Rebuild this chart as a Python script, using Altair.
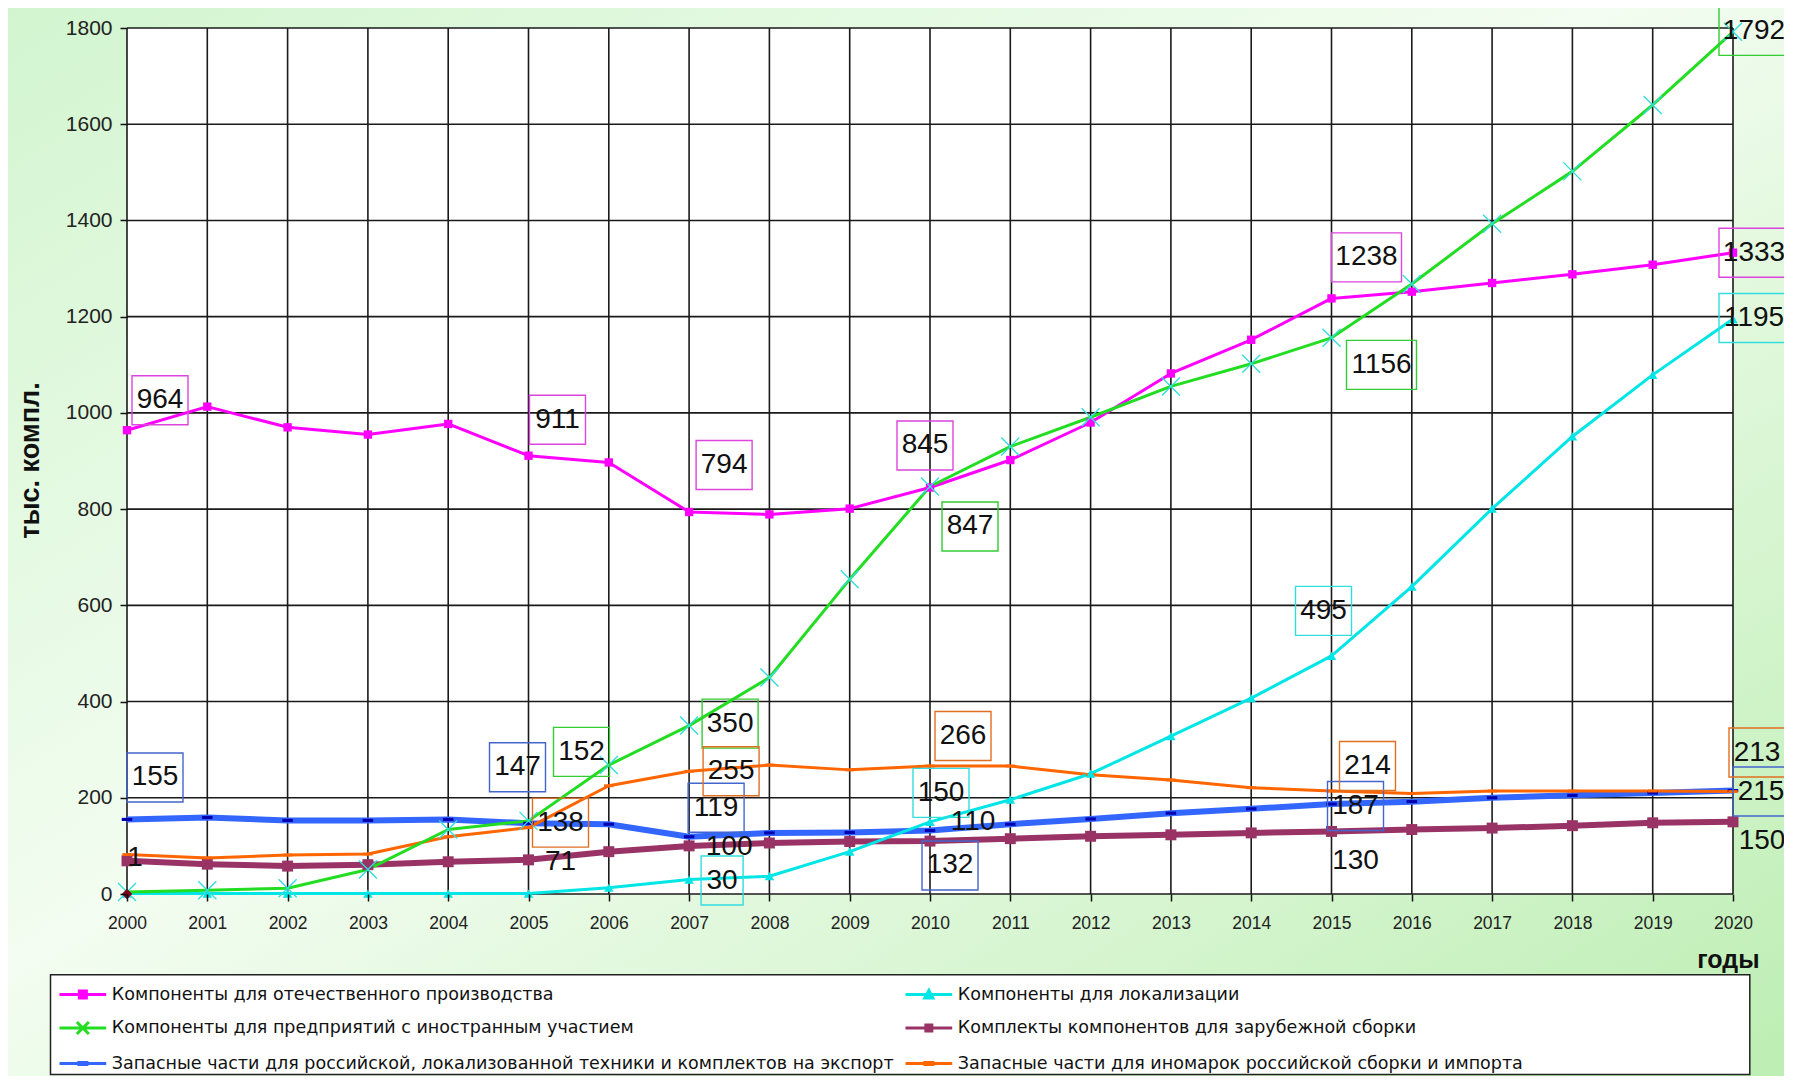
import altair as alt
import pandas as pd

# ---------------- data ----------------
years = list(range(2000, 2021))

series_names = [
    "Компоненты для отечественного производства",
    "Компоненты для предприятий с иностранным участием",
    "Запасные части для российской, локализованной техники и комплектов на экспорт",
    "Компоненты для локализации",
    "Комплекты компонентов для зарубежной сборки",
    "Запасные части для иномарок российской сборки и импорта",
]

domestic = [964, 1013, 970, 955, 977, 911, 897, 794, 789, 801, 845, 902, 980, 1082, 1152, 1238, 1252, 1270, 1288, 1308, 1333]
foreign = [4, 8, 12, 51, 134, 152, 268, 350, 450, 654, 847, 930, 991, 1055, 1102, 1156, 1268, 1393, 1502, 1640, 1792]
spare_ru = [155, 159, 153, 153, 155, 147, 145, 119, 127, 128, 132, 145, 156, 168, 177, 187, 192, 200, 205, 210, 215]
localiz = [1, 1, 1, 1, 1, 1, 13, 30, 37, 88, 150, 196, 250, 328, 407, 495, 639, 801, 951, 1079, 1195]
kits = [69, 62, 58, 61, 67, 71, 88, 100, 106, 109, 110, 115, 120, 123, 127, 130, 134, 137, 142, 148, 150]
spare_im = [82, 75, 81, 83, 119, 138, 225, 255, 268, 258, 266, 266, 248, 237, 221, 214, 209, 214, 214, 214, 213]

series_values = [domestic, foreign, spare_ru, localiz, kits, spare_im]

y_ticks = list(range(0, 1801, 200))

origin_marker_year = [2000]
origin_marker_value = [0]

# labelled points: (series index, year, boxed)
label_points = [
    (0, 2000, True), (0, 2005, True), (0, 2007, True), (0, 2010, True), (0, 2015, True), (0, 2020, True),
    (1, 2005, True), (1, 2007, True), (1, 2010, True), (1, 2015, True), (1, 2020, True),
    (2, 2000, True), (2, 2005, True), (2, 2007, True), (2, 2010, True), (2, 2015, True), (2, 2020, True),
    (3, 2000, False), (3, 2007, True), (3, 2010, True), (3, 2015, True), (3, 2020, True),
    (4, 2005, False), (4, 2007, False), (4, 2010, False), (4, 2015, False), (4, 2020, False),
    (5, 2005, True), (5, 2007, True), (5, 2010, True), (5, 2015, True), (5, 2020, True),
]
# pixel offsets of each label from its point (styling)
label_offsets = [
    (33, -30), (29, -36), (35, -47), (-5, -42), (35, -41), (21, 0),
    (53, -69), (41, -2), (40, 40), (50, 27), (21, -1),
    (28, -42), (-11, -56), (27, -29), (20, 35), (24, 2), (28, 1),
    (8, -36), (33, 1), (11, -29), (-8, -45), (21, -1),
    (32, 2), (40, 1), (43, -19), (24, 30), (29, 19),
    (32, -5), (42, 0), (33, -30), (36, -25), (24, -39),
]

# ---------------- styling ----------------
W, H = 1606, 866
PAD_L, PAD_T, PAD_R, PAD_B = 119, 20, 51, 182

line_colors = ["#ff00ff", "#22dd22", "#3366ff", "#00e5e5", "#993366", "#ff6600"]
line_widths = [3, 3, 6, 3, 6, 3]
box_colors = ["#dd44dd", "#33cc33", "#4466cc", "#33dddd", "#993366", "#e07020"]
DASH = "M-1,-0.3H1V0.3H-1Z"
XMARK = "M-1,-1L1,1M-1,1L1,-1"
marker_specs = [
    dict(shape="square", filled=True, color="#ff00ff", size=70),
    dict(shape=XMARK, filled=False, color="#33dddd", size=324, strokeWidth=1.4),
    dict(shape=DASH, filled=True, color="#0000b0", size=110),
    dict(shape="triangle-up", filled=True, color="#00e5e5", size=90),
    dict(shape="square", filled=True, color="#993366", size=120),
    dict(shape=DASH, filled=True, color="#ff6600", size=90),
]

LINE = "M-2.335,0H2.335"
legend_order = [0, 1, 2, 3, 4, 5]
legend_shapes = {
    0: LINE + "M-0.35,-0.35H0.35V0.35H-0.35Z",
    1: LINE + "M-0.6,-0.6L0.6,0.6M-0.6,0.6L0.6,-0.6",
    2: LINE + "M-0.4,-0.1H0.4V0.1H-0.4Z",
    3: LINE + "M0,-0.4L0.4,0.35H-0.4Z",
    4: LINE + "M-0.3,-0.3H0.3V0.3H-0.3Z",
    5: LINE + "M-0.4,-0.1H0.4V0.1H-0.4Z",
}
legend_fill = {0: "#ff00ff", 1: "#22dd22", 2: "#0000aa", 3: "#00e5e5", 4: "#993366", 5: "#ff6600"}

SANS = "Liberation Sans, Arial, sans-serif"

# ---------------- data frames ----------------
long_df = pd.DataFrame(
    [(series_names[i], y, v) for i, vals in enumerate(series_values) for y, v in zip(years, vals)],
    columns=["series", "year", "value"],
)
lab_rows = []
for (si, yr, boxed), (dx, dy) in zip(label_points, label_offsets):
    v = series_values[si][years.index(yr)]
    lab_rows.append(dict(si=si, series=series_names[si], year=yr, value=v, label=str(v),
                         dx=dx, dy=dy, boxed=boxed))
lab_df = pd.DataFrame(lab_rows)

x_scale = alt.Scale(domain=[2000, 2020], nice=False, zero=False)
y_scale = alt.Scale(domain=[0, 1800], nice=False, zero=True)

x_axis = alt.Axis(values=years, format="d", grid=False, domain=False, tickSize=7, tickWidth=1.5,
                  tickColor="#111", labelFont=SANS, labelFontSize=17.5, labelColor="#222",
                  labelPadding=13, labelFlush=False, title="годы", titleFont=SANS, titleFontSize=25,
                  titleFontWeight="bold", titleColor="#111", titleAlign="right",
                  titleX=W + 26, titleY=65, titleBaseline="middle", titleAnchor="end", zindex=1)
y_axis = alt.Axis(values=y_ticks, format="d", grid=False, domain=False, tickSize=7, tickWidth=1.5,
                  tickColor="#111", labelFont=SANS, labelFontSize=21, labelColor="#222",
                  labelPadding=8, labelFlush=False, title="тыс. компл.", titleFont=SANS, titleFontSize=27,
                  titleFontWeight="bold", titleColor="#111", titleX=-97, titleY=432,
                  titleAngle=270, titleAlign="center", titleBaseline="middle", zindex=1)

x_enc = alt.X("year:Q", scale=x_scale, axis=x_axis)
y_enc = alt.Y("value:Q", scale=y_scale, axis=y_axis)

dummy = pd.DataFrame({"d": [0]})
layers = []

# background panel (gradient) and white plot area
layers.append(
    alt.Chart(dummy).mark_rect(
        fill=alt.Gradient(gradient="linear", x1=0, y1=0, x2=1, y2=1,
                          stops=[alt.GradientStop(color="#d2f5cf", offset=0),
                                 alt.GradientStop(color="#f3fdf1", offset=0.45),
                                 alt.GradientStop(color="#bdeeb3", offset=1)])
    ).encode(x=alt.value(-PAD_L), x2=alt.value(W + PAD_R), y=alt.value(-PAD_T), y2=alt.value(H + PAD_B))
)
layers.append(
    alt.Chart(dummy).mark_rect(fill="white").encode(
        x=alt.value(0), x2=alt.value(W), y=alt.value(0), y2=alt.value(H))
)
# grid
layers.append(alt.Chart(pd.DataFrame({"year": years})).mark_rule(color="#1a1a1a", strokeWidth=1.6)
              .encode(x=x_enc))
layers.append(alt.Chart(pd.DataFrame({"value": y_ticks})).mark_rule(color="#1a1a1a", strokeWidth=1.6)
              .encode(y=y_enc))
# legend box
layers.append(
    alt.Chart(dummy).mark_rect(fill="white", stroke="#222", strokeWidth=1.5).encode(
        x=alt.value(-76.5), x2=alt.value(1622.8), y=alt.value(946.7), y2=alt.value(1046.5))
)

# series lines
draw_order = [4, 2, 5, 3, 0, 1]
for i in draw_order:
    d = long_df[long_df.series == series_names[i]]
    layers.append(alt.Chart(d).mark_line(color=line_colors[i], strokeWidth=line_widths[i],
                                         strokeJoin="round").encode(x=x_enc, y=y_enc))
for i in draw_order:
    d = long_df[long_df.series == series_names[i]]
    spec = dict(marker_specs[i])
    layers.append(alt.Chart(d).mark_point(opacity=1, **spec).encode(x=x_enc, y=y_enc))

layers.append(
    alt.Chart(pd.DataFrame({"year": origin_marker_year, "value": origin_marker_value}))
    .mark_point(shape="diamond", filled=True, color="#800020", size=110, opacity=1)
    .encode(x=x_enc, y=y_enc)
)

# label boxes and texts
for i in range(6):
    d = lab_df[(lab_df.si == i) & (lab_df.boxed)]
    if len(d):
        layers.append(
            alt.Chart(d).transform_calculate(bw="length(datum.label) * 14 + 14")
            .mark_rect(fillOpacity=0, stroke=box_colors[i], strokeWidth=1.4,
                       xOffset=alt.ExprRef(expr="datum.dx - datum.bw / 2"),
                       x2Offset=alt.ExprRef(expr="datum.dx + datum.bw / 2"),
                       yOffset=alt.ExprRef(expr="datum.dy - 24.5"),
                       y2Offset=alt.ExprRef(expr="datum.dy + 24.5"))
            .encode(x=x_enc, x2=alt.X2("year:Q"), y=y_enc, y2=alt.Y2("value:Q"))
        )
layers.append(
    alt.Chart(lab_df).mark_text(font=SANS, fontSize=28, color="#111", align="center",
                                baseline="middle",
                                dx=alt.ExprRef(expr="datum.dx"), dy=alt.ExprRef(expr="datum.dy"))
    .encode(x=x_enc, y=y_enc, text="label:N")
)

# legend (entries from scales; no visible data points)
leg_domain = [series_names[k] for k in legend_order]
leg = alt.Legend(title=None, orient="none", legendX=-69, legendY=955, columns=2,
                 symbolSize=400, symbolOffset=13.35, labelOffset=17.5,
                 labelFont="DejaVu Sans", labelFontSize=17.5, labelColor="#111", labelLimit=2000,
                 rowPadding=11.5, columnPadding=5, padding=0, zindex=1, symbolOpacity=1)
layers.append(
    alt.Chart(pd.DataFrame({"series": series_names})).transform_filter("false")
    .mark_point(filled=True, opacity=1)
    .encode(
        fill=alt.Fill("series:N", scale=alt.Scale(domain=leg_domain,
                                                  range=[legend_fill[k] for k in legend_order]), legend=leg),
        stroke=alt.Stroke("series:N", scale=alt.Scale(domain=leg_domain,
                                                      range=[line_colors[k] for k in legend_order]), legend=leg),
        shape=alt.Shape("series:N", scale=alt.Scale(domain=leg_domain,
                                                    range=[legend_shapes[k] for k in legend_order]), legend=leg),
        strokeWidth=alt.StrokeWidth("series:N", scale=alt.Scale(domain=leg_domain,
                                                                range=[line_widths[k] for k in legend_order]), legend=leg),
    )
)

chart = alt.layer(*layers).properties(
    width=W, height=H,
    padding={"left": PAD_L, "top": PAD_T, "right": PAD_R, "bottom": PAD_B},
    autosize=alt.AutoSizeParams(type="none"),
    background="#e4f9e0",
).configure_view(strokeWidth=0)

chart.save("out.html", embed_options={"renderer": "svg", "actions": False})
